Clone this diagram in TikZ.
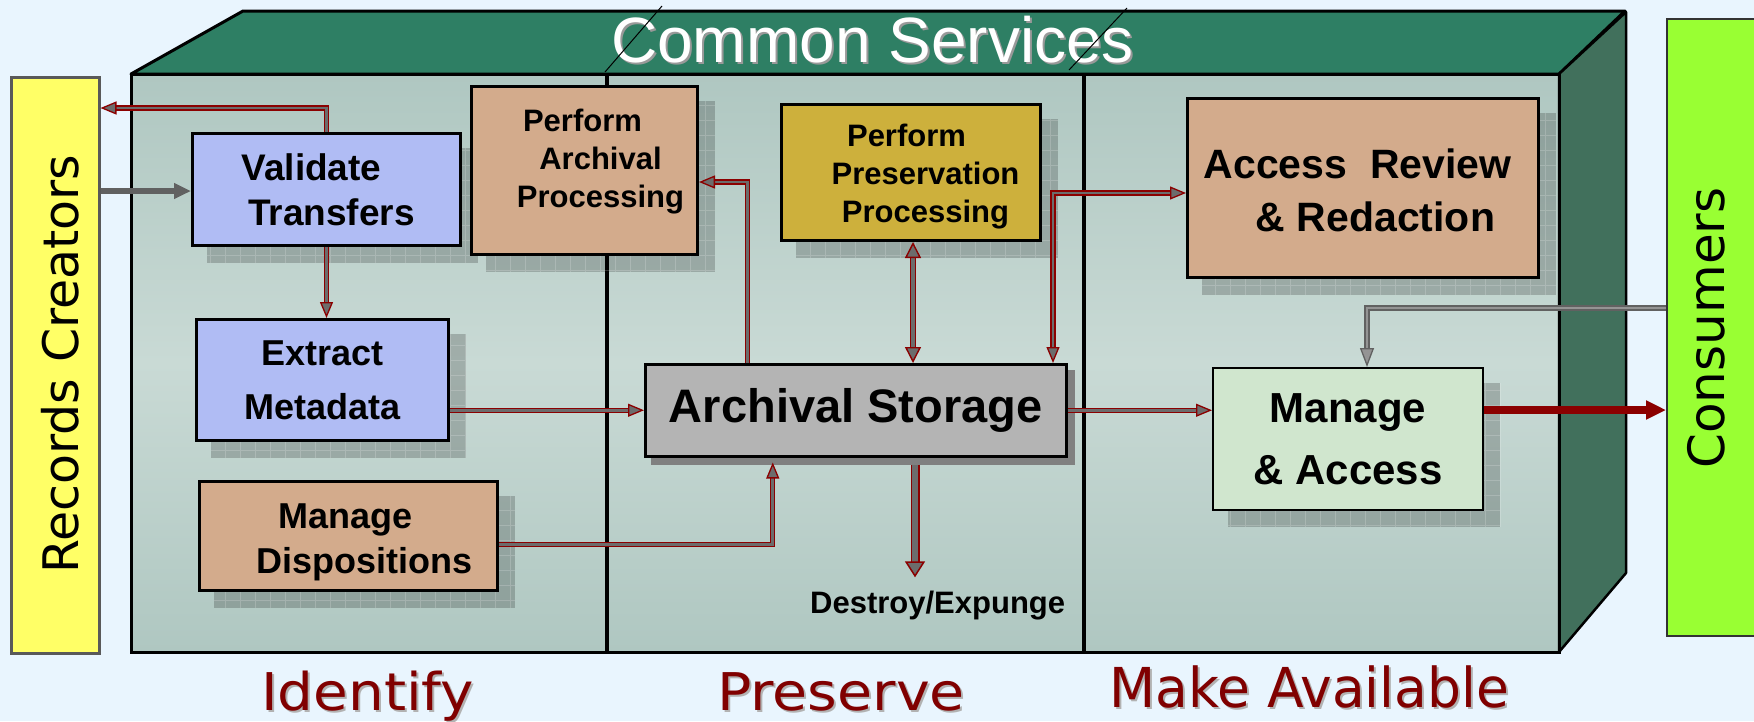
\documentclass[tikz,border=0pt]{standalone}
\usepackage{fontspec}
\usepackage{graphicx}
\setmainfont{Liberation Sans}
\newfontfamily\dvs{DejaVu Sans}
\usetikzlibrary{arrows.meta}
\definecolor{bgc}{HTML}{E9F5FE}
\definecolor{topf}{HTML}{2E7F64}
\definecolor{sidef}{HTML}{41705C}
\definecolor{frontA}{HTML}{AFC7C1}
\definecolor{frontB}{HTML}{C9DAD5}
\definecolor{dred}{HTML}{8B0000}
\definecolor{labred}{HTML}{800000}
\definecolor{pipein}{HTML}{6C6C6C}
\definecolor{blu}{HTML}{B0BCF4}
\definecolor{tanc}{HTML}{D3AB8C}
\definecolor{gold}{HTML}{CDB03C}
\definecolor{stog}{HTML}{B4B4B4}
\definecolor{mag}{HTML}{D0E6CE}
\definecolor{yel}{HTML}{FFFF66}
\definecolor{grn}{HTML}{99FF33}
\pgfdeclarelayer{bgl}
\pgfdeclarelayer{shd}
\pgfsetlayers{bgl,shd,main}
\newcommand\bxshadow[1]{%
  \fill[black, opacity=.2] ([shift={(16,16)}]#1.north west) rectangle ([shift={(16,16)}]#1.south east);
  \draw[white, opacity=.18, line width=.8pt, step=15pt] ([shift={(16,16)}]#1.north west) grid ([shift={(16,16)}]#1.south east);
}
\newcommand\padr[1]{\rule{#1}{0pt}}
\tikzset{
  box/.style={draw=black, line width=3pt, anchor=north west, inner sep=0pt, align=center},
  btxt/.style={align=center, inner sep=0pt},
  pipe/.style={draw=dred, line width=1.3pt, double=pipein, double distance=2.6pt, -{Triangle[length=16pt,width=13pt,fill=pipein]}},
  pipeboth/.style={draw=dred, line width=1.4pt, double=pipein, double distance=4pt, {Triangle[length=16pt,width=16pt,fill=pipein]}-{Triangle[length=16pt,width=16pt,fill=pipein]}},
  pipeend/.style={draw=dred, line width=1.3pt, double=pipein, double distance=2.6pt, {Triangle[length=16pt,width=13pt,fill=pipein]}-{Triangle[length=16pt,width=13pt,fill=pipein]}},
  pipebig/.style={draw=dred, line width=1.5pt, double=pipein, double distance=6pt, -{Triangle[length=16pt,width=20pt,fill=pipein]}},
  gthick/.style={draw=black!62, line width=5.5pt, -{Triangle[length=17pt,width=15pt]}},
  gpipe/.style={draw=black!62, double=black!42, line width=1.3pt, double distance=2.6pt, -{Triangle[length=19pt,width=14pt,fill=black!42]}},
  rthick/.style={draw=dred, line width=8pt, -{Triangle[length=20pt,width=18pt]}},
  lbl/.style={inner sep=0pt, anchor=base west},
}
\begin{document}
\begin{tikzpicture}[x=1pt,y=-1pt]
\useasboundingbox (0,0) rectangle (1754,721);
\begin{pgfonlayer}{bgl}
  \fill[bgc] (0,0) rectangle (1754,721);
  \fill[top color=frontA, bottom color=frontA, middle color=frontB] (131,74) rectangle (1559,652);
  \draw[line width=3pt, fill=topf, line join=round] (131,74) -- (243,11) -- (1625,11) -- (1559,74) -- cycle;
  \draw[line width=2.5pt, fill=sidef, line join=round] (1559,74) -- (1626,12) -- (1626,573) -- (1559,652) -- cycle;
  \draw[line width=3pt] (131,74) rectangle (1559,652);
  \draw[line width=3.5pt] (607,74) -- (607,652) (1084,74) -- (1084,652);
\end{pgfonlayer}

% side boxes
\node[draw=black!65, line width=2.5pt, fill=yel, minimum width=88, minimum height=576, anchor=north west, inner sep=0pt] (rc) at (10,76) {};
\node[rotate=90, anchor=base, inner sep=0pt, font=\dvs\fontsize{49}{49}\selectfont] (rctext) at (78,364) {Records Creators};
\node[draw=black!80, line width=2pt, fill=grn, minimum width=110, minimum height=617, anchor=north west, inner sep=0pt] (con) at (1666,18) {};
\node[rotate=90, anchor=base, inner sep=0pt, font=\dvs\fontsize{50}{50}\selectfont] (context) at (1724,328) {Consumers};

% title
\node[lbl, text=black!40, font=\fontsize{64}{64}\selectfont] (csshadow) at (613,64) {Common Services};
\node[lbl, text=white, font=\fontsize{64}{64}\selectfont] (cs) at (611,62) {Common Services};
\draw[line width=1pt] (605,72) -- (662,6) (1069,70) -- (1127,8);

% process boxes
\node[box, fill=blu, minimum width=268, minimum height=112] (val) at (191,132) {};
\node[btxt, font=\bfseries\fontsize{37}{45}\selectfont] (valtxt) at ([xshift=5pt]val.center) {Validate\padr{40pt}\\Transfers};
\node[box, fill=tanc, minimum width=226, minimum height=168] (pap) at (470,85) {};
\node[btxt, font=\bfseries\fontsize{31}{38}\selectfont] (paptxt) at ([xshift=16pt,yshift=9pt]pap.center) {Perform\padr{36pt}\\Archival\\Processing};
\node[box, fill=gold, minimum width=259, minimum height=136] (ppp) at (780,103) {};
\node[btxt, font=\bfseries\fontsize{31}{38}\selectfont] (ppptxt) at ([xshift=14.5pt,yshift=-4pt]ppp.center) {Perform\padr{38pt}\\Preservation\\Processing};
\node[box, fill=tanc, minimum width=351, minimum height=179] (arr) at (1186,97) {};
\node[btxt, font=\bfseries\fontsize{41}{53}\selectfont] (arrtxt) at ([xshift=12.5pt,yshift=-2.5pt]arr.center) {Access\ \ Review\padr{36pt}\\\& Redaction};
\node[box, fill=blu, minimum width=252, minimum height=121, font=\bfseries\fontsize{36}{54}\selectfont] (ext) at (195,318) {Extract\\Metadata};
\node[box, fill=tanc, minimum width=298, minimum height=109] (dis) at (198,480) {};
\node[btxt, font=\bfseries\fontsize{36}{45}\selectfont] (distxt) at ([xshift=16pt,yshift=-6.5pt]dis.center) {Manage\padr{38pt}\\Dispositions};
\node[box, fill=stog, line width=2.5pt, minimum width=421, minimum height=92, font=\bfseries\fontsize{47}{47}\selectfont] (sto) at (644,363) {Archival Storage};
\node[box, fill=mag, line width=2pt, minimum width=270, minimum height=142, font=\bfseries\fontsize{42}{62}\selectfont] (ma) at (1212,367) {Manage\\\& Access};
\node[lbl, font=\bfseries\fontsize{31}{31}\selectfont] (dtext) at (810,613) {Destroy/Expunge};

\begin{pgfonlayer}{shd}
  \bxshadow{val}\bxshadow{pap}\bxshadow{ppp}\bxshadow{arr}\bxshadow{ext}\bxshadow{dis}\bxshadow{ma}
  \fill[black!50] ([shift={(7,7)}]sto.north west) rectangle ([shift={(7,7)}]sto.south east);
\end{pgfonlayer}

% connectors
\draw[gthick] (rc.east |- 0,191) -- (val.west |- 0,191);
\draw[pipe] (val.north) |- (rc.east |- 0,108);
\draw[pipe] (val.south) -- (val.south |- ext.north);
\draw[pipe] (ext.east |- sto.west) -- (sto.west);
\draw[pipe, shorten >=5pt] ([yshift=-8.5pt]dis.east) -| ([xshift=-83pt]sto.south);
\draw[pipe] ([xshift=-108pt]sto.north) |- (pap.east |- 0,182);
\draw[pipeboth] (ppp.south -| 913,0) -- (sto.north -| 913,0);
\draw[pipeend] (sto.north -| 1053,0) |- (arr.west |- 0,193);
\draw[pipe] (sto.east) -- (sto.east -| ma.west);
\draw[pipebig, shorten <=7pt, shorten >=13pt] (sto.south -| 915,0) -- (dtext.north -| 915,0);
\draw[gpipe] (con.west |- 0,308) -| (ma.north -| 1367,0);
\draw[rthick] (ma.east |- 0,410) -- (con.west |- 0,410);

% bottom labels
\node[lbl, text=black!30] (idsh) at (263,712) {\dvs\fontsize{52}{52}\selectfont\scalebox{1.085}[1]{Identify}};
\node[lbl, text=labred] (id) at (261,710) {\dvs\fontsize{52}{52}\selectfont\scalebox{1.085}[1]{Identify}};
\node[lbl, text=black!30] (prsh) at (719,712) {\dvs\fontsize{52}{52}\selectfont\scalebox{1.097}[1]{Preserve}};
\node[lbl, text=labred] (pr) at (717,710) {\dvs\fontsize{52}{52}\selectfont\scalebox{1.097}[1]{Preserve}};
\node[lbl, text=black!30] (mash) at (1111,709) {\dvs\fontsize{55}{55}\selectfont\scalebox{0.972}[1]{Make Available}};
\node[lbl, text=labred] (mav) at (1109,707) {\dvs\fontsize{55}{55}\selectfont\scalebox{0.972}[1]{Make Available}};
\end{tikzpicture}
\end{document}
